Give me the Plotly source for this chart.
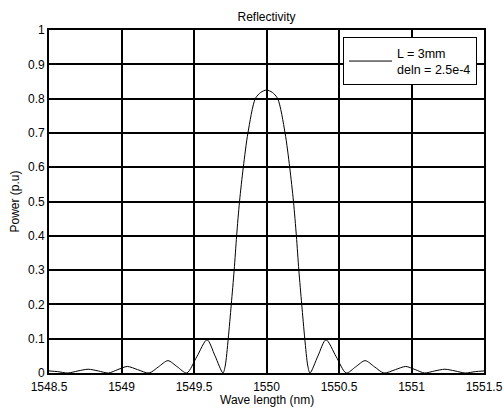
import plotly.graph_objects as go

# Wavelength samples (nm) and reflectivity
wavelength_nm = [
    1548.50, 1548.56, 1548.63, 1548.70, 1548.77, 1548.84, 1548.91,
    1548.975, 1549.04, 1549.11, 1549.19, 1549.255, 1549.32, 1549.385,
    1549.45, 1549.52, 1549.59, 1549.645, 1549.70, 1549.715, 1549.736,
    1549.757, 1549.777, 1549.794, 1549.814, 1549.840, 1549.872, 1549.923,
    1549.96, 1550.00, 1550.04, 1550.077, 1550.128, 1550.160, 1550.186,
    1550.206, 1550.223, 1550.243, 1550.264, 1550.285, 1550.30, 1550.355,
    1550.41, 1550.48, 1550.55, 1550.615, 1550.68, 1550.745, 1550.81,
    1550.89, 1550.96, 1551.025, 1551.09, 1551.16, 1551.23, 1551.30,
    1551.37, 1551.44, 1551.50,
]
reflectivity = [
    0.006, 0.004, 0.000, 0.006, 0.011, 0.006, 0.000,
    0.010, 0.019, 0.010, 0.000, 0.018, 0.036, 0.018,
    0.000, 0.048, 0.097, 0.050, 0.000, 0.020, 0.100,
    0.200, 0.300, 0.400, 0.500, 0.600, 0.700, 0.800,
    0.818, 0.825, 0.818, 0.800, 0.700, 0.600, 0.500,
    0.400, 0.300, 0.200, 0.100, 0.020, 0.000, 0.050,
    0.097, 0.048, 0.000, 0.018, 0.036, 0.018, 0.000,
    0.010, 0.019, 0.010, 0.000, 0.006, 0.011, 0.006,
    0.000, 0.004, 0.006,
]

x_ticks = [1548.5, 1549, 1549.5, 1550, 1550.5, 1551, 1551.5]
x_tick_labels = ["1548.5", "1549", "1549.5", "1550", "1550.5", "1551", "1551.5"]
y_ticks = [0, 0.1, 0.2, 0.3, 0.4, 0.5, 0.6, 0.7, 0.8, 0.9, 1]
y_tick_labels = ["0", "0.1", "0.2", "0.3", "0.4", "0.5", "0.6", "0.7", "0.8", "0.9", "1"]

series_name = "L = 3mm<br>deln = 2.5e-4"
x_title = "Wave length (nm)"
y_title = "Power (p.u)"
chart_title = "Reflectivity"

FONT = "Liberation Sans, Arial, sans-serif"

fig = go.Figure()
fig.add_trace(go.Scatter(
    x=wavelength_nm, y=reflectivity, mode="lines", name=series_name,
    line=dict(color="black", width=1, shape="spline", smoothing=0.8),
))

axis_common = dict(
    showgrid=True, gridcolor="black", gridwidth=1.6,
    showline=True, linecolor="black", linewidth=1.6, mirror=True,
    zeroline=False, ticks="", automargin=False,
    tickfont=dict(family=FONT, size=12, color="black"),
)

fig.update_layout(
    width=504, height=412,
    margin=dict(l=49, r=20, t=30, b=39),
    paper_bgcolor="white", plot_bgcolor="white",
    font=dict(family=FONT, size=12, color="black"),
    title=dict(text=chart_title, x=0.5, xref="paper", xanchor="center",
               y=1 - 17 / 412, yref="container", yanchor="middle",
               font=dict(family=FONT, size=12, color="black")),
    xaxis=dict(range=[1548.5, 1551.5], tickvals=x_ticks, ticktext=x_tick_labels,
               ticklabelstandoff=2, **axis_common),
    yaxis=dict(range=[0, 1], tickvals=y_ticks, ticktext=y_tick_labels,
               title=dict(text=y_title, standoff=6,
                          font=dict(family=FONT, size=12, color="black")),
               **axis_common),
    showlegend=True,
    legend=dict(x=(343 - 49) / 435, y=(373 - 37.3) / 343, xanchor="left", yanchor="top",
                bordercolor="black", borderwidth=1, bgcolor="white",
                font=dict(family=FONT, size=12.5, color="black"),
                tracegroupgap=0, itemwidth=43, valign="middle"),
    annotations=[dict(
        text=x_title, xref="paper", yref="paper", x=0.5, y=-(400 - 373) / 343,
        xanchor="center", yanchor="middle", showarrow=False,
        font=dict(family=FONT, size=12, color="black"),
    )],
)

fig.write_html("out.html")
